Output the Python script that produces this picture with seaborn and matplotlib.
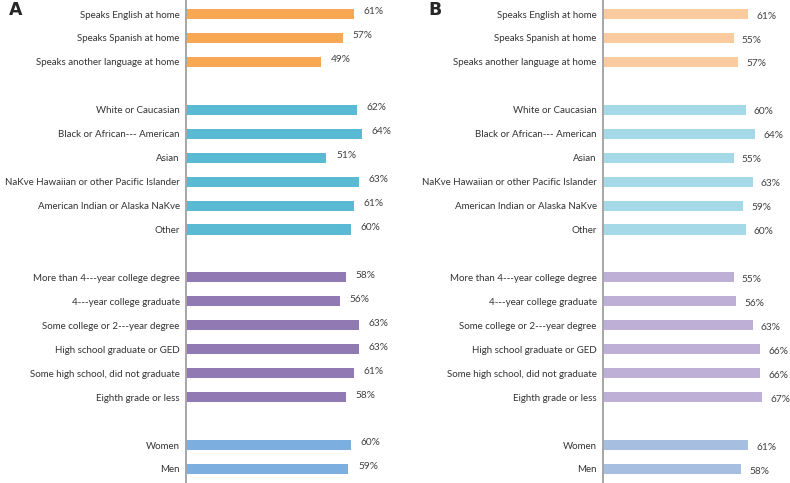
import matplotlib
import matplotlib.pyplot as plt
import numpy as np
import pandas as pd
import seaborn as sns

matplotlib.use("Agg")

# row labels, top to bottom, one list per group
language = ["Speaks English at home", "Speaks Spanish at home", "Speaks another language at home"]
race = ["White or Caucasian", "Black or African--- American", "Asian",
        "NaKve Hawaiian or other Pacific Islander", "American Indian or Alaska NaKve", "Other"]
education = ["More than 4---year college degree", "4---year college graduate",
             "Some college or 2---year degree", "High school graduate or GED",
             "Some high school, did not graduate", "Eighth grade or less"]
sex = ["Women", "Men"]

# panel A values (%)
a_language = [61, 57, 49]
a_race = [62, 64, 51, 63, 61, 60]
a_education = [58, 56, 63, 63, 61, 58]
a_sex = [60, 59]

# panel B values (%)
b_language = [61, 55, 57]
b_race = [60, 64, 55, 63, 59, 60]
b_education = [55, 56, 63, 66, 66, 67]
b_sex = [61, 58]

colors_a = {"language": "#F8A853", "race": "#5BBAD3", "education": "#917AB3", "sex": "#7DAEE0"}
colors_b = {"language": "#FACB9E", "race": "#A6D9E8", "education": "#BEAFD6", "sex": "#A6BFE0"}


def build_frame(values):
    """Stack the groups into one frame, leaving one empty slot between groups."""
    groups = ["language", "race", "education", "sex"]
    labels = [language, race, education, sex]
    rows = []
    pos = 0
    for g, lab, val in zip(groups, labels, values):
        for l, v in zip(lab, val):
            rows.append({"label": l, "value": v, "group": g, "pos": pos})
            pos += 1
        pos += 1
    return pd.DataFrame(rows)


df_a = build_frame([a_language, a_race, a_education, a_sex])
df_b = build_frame([b_language, b_race, b_education, b_sex])

sns.set_style("white")
plt.rcParams["font.family"] = ["Lato", "DejaVu Sans"]

fig = plt.figure(figsize=(7.9, 4.83), dpi=100)
ax_a = fig.add_axes([186 / 790, 0, 209 / 790, 1])
ax_b = fig.add_axes([603 / 790, 0, 187 / 790, 1])


def draw_panel(ax, df, palette, xmax, dx, dy):
    sns.barplot(data=df, x="value", y="pos", hue="group", palette=palette, orient="h",
                native_scale=True, width=0.42, dodge=False, legend=False, ax=ax,
                linewidth=0, saturation=1)
    for _, r in df.iterrows():
        ax.annotate(f"{r['value']}%", xy=(r["value"], r["pos"]), xytext=(dx, dy),
                    textcoords="offset points", va="center", ha="left",
                    fontsize=7.3, color="#404040")
    ax.set_xlim(0, xmax)
    ax.set_ylim(19.585, -0.585)
    ax.set_yticks(df["pos"])
    ax.set_yticklabels(df["label"], fontsize=7.0, color="#333333")
    ax.set_xticks([])
    ax.set_xlabel("")
    ax.set_ylabel("")
    ax.tick_params(axis="y", length=0, pad=4.5)
    for s in ["top", "right", "bottom"]:
        ax.spines[s].set_visible(False)
    ax.spines["left"].set_color("#A6A6A6")
    ax.spines["left"].set_linewidth(1.4)
    ax.set_facecolor("none")


draw_panel(ax_a, df_a, colors_a, 209 / 2.75, 7, 1.5)
draw_panel(ax_b, df_b, colors_b, 187 / 2.375, 6, -1.5)

fig.text(9 / 790, 1 - 10 / 483, "A", fontsize=12.5, fontweight="bold", va="center", ha="left",
         family="DejaVu Sans")
fig.text(428 / 790, 1 - 10 / 483, "B", fontsize=12.5, fontweight="bold", va="center", ha="left",
         family="DejaVu Sans")

fig.savefig("out.png", dpi=100)
